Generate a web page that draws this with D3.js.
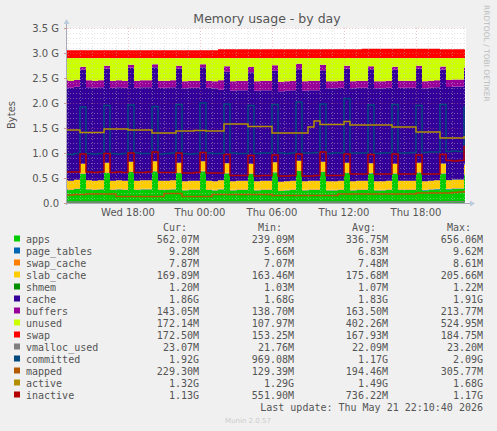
<!DOCTYPE html>
<html><head><meta charset="utf-8">
<script src="https://cdn.jsdelivr.net/npm/d3@7"></script>
<style>body{margin:0;background:#f0f0f0}svg{display:block}</style>
</head><body><svg id="c" width="497" height="431"></svg>
<script>
// time: 30-minute samples starting Wed 12:45 (hours from Wed 00:00)
const startHour = 12.75, stepHour = 0.5;
const apps = [0.27,0.26,0.28,0.58, 0.27,0.26,0.27,0.60, 0.26,0.27,0.26,0.62, 0.26,0.27,0.27,0.63, 0.26,0.26,0.27,0.60, 0.25,0.26,0.26,0.63, 0.26,0.25,0.27,0.59, 0.25,0.26,0.26,0.58, 0.25,0.26,0.26,0.61, 0.24,0.25,0.26,0.64, 0.25,0.26,0.26,0.62, 0.25,0.25,0.26,0.60, 0.25,0.26,0.26,0.59, 0.25,0.25,0.26,0.58, 0.26,0.26,0.26,0.60, 0.25,0.26,0.27,0.58, 0.27,0.28,0.28,0.56];
const pageTables = [0.006,0.006,0.006,0.007, 0.006,0.006,0.006,0.007, 0.006,0.006,0.006,0.007, 0.007,0.007,0.007,0.007, 0.007,0.007,0.007,0.007, 0.007,0.007,0.007,0.007, 0.007,0.007,0.007,0.007, 0.007,0.007,0.007,0.007, 0.007,0.007,0.007,0.007, 0.007,0.007,0.007,0.007, 0.007,0.007,0.007,0.007, 0.007,0.007,0.007,0.007, 0.007,0.007,0.007,0.008, 0.007,0.007,0.007,0.008, 0.007,0.007,0.007,0.008, 0.008,0.008,0.008,0.009, 0.009,0.009,0.009,0.009];
const swapCache = [0.007,0.007,0.007,0.007, 0.007,0.007,0.007,0.007, 0.007,0.007,0.007,0.007, 0.007,0.007,0.007,0.007, 0.007,0.007,0.007,0.007, 0.007,0.007,0.007,0.007, 0.007,0.007,0.008,0.008, 0.008,0.008,0.008,0.008, 0.008,0.008,0.008,0.008, 0.008,0.008,0.008,0.008, 0.008,0.008,0.008,0.008, 0.008,0.008,0.008,0.008, 0.008,0.008,0.008,0.008, 0.008,0.008,0.008,0.008, 0.008,0.008,0.008,0.008, 0.008,0.008,0.008,0.008, 0.008,0.008,0.008,0.008];
const slabCache = [0.17,0.17,0.17,0.19, 0.17,0.17,0.17,0.19, 0.17,0.17,0.17,0.19, 0.17,0.17,0.17,0.19, 0.17,0.17,0.17,0.19, 0.17,0.17,0.17,0.19, 0.17,0.17,0.17,0.19, 0.17,0.17,0.17,0.19, 0.17,0.17,0.17,0.19, 0.17,0.17,0.17,0.19, 0.17,0.17,0.17,0.19, 0.17,0.17,0.17,0.19, 0.17,0.17,0.17,0.19, 0.17,0.17,0.17,0.19, 0.17,0.17,0.17,0.19, 0.17,0.17,0.17,0.19, 0.17,0.17,0.17,0.19];
const shmem = [0.001,0.001,0.001,0.001, 0.001,0.001,0.001,0.001, 0.001,0.001,0.001,0.001, 0.001,0.001,0.001,0.001, 0.001,0.001,0.001,0.001, 0.001,0.001,0.001,0.001, 0.001,0.001,0.001,0.001, 0.001,0.001,0.001,0.001, 0.001,0.001,0.001,0.001, 0.001,0.001,0.001,0.001, 0.001,0.001,0.001,0.001, 0.001,0.001,0.001,0.001, 0.001,0.001,0.001,0.001, 0.001,0.001,0.001,0.001, 0.001,0.001,0.001,0.001, 0.001,0.001,0.001,0.001, 0.001,0.001,0.001,0.001];
const cache = [1.86,1.86,1.86,1.88, 1.86,1.86,1.86,1.88, 1.86,1.86,1.86,1.88, 1.86,1.86,1.86,1.88, 1.86,1.86,1.86,1.88, 1.86,1.86,1.86,1.88, 1.86,1.86,1.81,1.83, 1.81,1.81,1.81,1.83, 1.81,1.81,1.81,1.83, 1.81,1.81,1.81,1.83, 1.81,1.81,1.81,1.83, 1.86,1.86,1.86,1.88, 1.86,1.86,1.86,1.88, 1.86,1.86,1.86,1.88, 1.86,1.86,1.86,1.88, 1.86,1.86,1.86,1.88, 1.86,1.86,1.86,1.88];
const buffers = [0.14,0.14,0.14,0.06, 0.14,0.14,0.14,0.06, 0.14,0.14,0.14,0.06, 0.14,0.14,0.14,0.06, 0.14,0.14,0.14,0.06, 0.14,0.14,0.14,0.06, 0.14,0.14,0.19,0.11, 0.19,0.19,0.19,0.11, 0.19,0.19,0.19,0.11, 0.19,0.19,0.19,0.11, 0.19,0.19,0.19,0.11, 0.14,0.14,0.14,0.06, 0.14,0.14,0.14,0.06, 0.14,0.14,0.14,0.06, 0.14,0.14,0.14,0.06, 0.14,0.14,0.14,0.06, 0.14,0.14,0.14,0.06];
const unused = [0.444,0.454,0.434,0.174, 0.444,0.454,0.444,0.154, 0.454,0.444,0.454,0.134, 0.454,0.444,0.444,0.124, 0.454,0.454,0.444,0.154, 0.464,0.454,0.454,0.124, 0.454,0.464,0.444,0.164, 0.464,0.454,0.454,0.174, 0.464,0.454,0.454,0.144, 0.474,0.464,0.454,0.114, 0.464,0.454,0.454,0.134, 0.464,0.464,0.454,0.154, 0.464,0.454,0.454,0.164, 0.464,0.464,0.454,0.174, 0.454,0.454,0.454,0.154, 0.464,0.454,0.444,0.174, 0.444,0.434,0.434,0.194];
const swap = [0.155,0.155,0.155,0.155, 0.155,0.155,0.155,0.155, 0.155,0.155,0.155,0.155, 0.155,0.155,0.155,0.155, 0.155,0.155,0.155,0.155, 0.155,0.155,0.155,0.155, 0.155,0.155,0.175,0.175, 0.175,0.175,0.175,0.175, 0.175,0.175,0.175,0.175, 0.175,0.175,0.175,0.175, 0.175,0.175,0.175,0.175, 0.175,0.175,0.175,0.175, 0.175,0.175,0.185,0.185, 0.185,0.185,0.185,0.185, 0.185,0.185,0.185,0.185, 0.185,0.185,0.185,0.172, 0.172,0.172,0.172,0.172];
const vmallocUsed = [0.022,0.022,0.022,0.022, 0.022,0.022,0.022,0.022, 0.022,0.022,0.022,0.022, 0.022,0.022,0.022,0.022, 0.022,0.022,0.022,0.022, 0.022,0.022,0.022,0.022, 0.022,0.022,0.022,0.022, 0.022,0.022,0.022,0.022, 0.022,0.022,0.022,0.022, 0.022,0.022,0.022,0.022, 0.022,0.022,0.022,0.022, 0.022,0.022,0.022,0.022, 0.022,0.022,0.022,0.022, 0.022,0.022,0.022,0.022, 0.022,0.022,0.022,0.022, 0.022,0.022,0.022,0.022, 0.023,0.023,0.023,0.023];
const committed = [0.98,0.97,0.99,1.92, 0.99,0.98,0.99,1.95, 0.99,0.98,0.99,1.96, 1.00,0.99,0.99,1.93, 0.98,0.99,1.00,1.97, 0.99,0.98,0.99,2.00, 1.00,0.99,0.99,1.98, 1.00,0.99,0.99,1.95, 0.99,1.00,1.00,1.97, 1.00,0.99,1.00,2.02, 1.00,1.00,1.01,1.98, 0.99,1.00,1.00,2.09, 1.00,1.00,1.00,1.96, 0.99,1.00,1.00,1.97, 1.00,1.00,1.01,1.95, 1.01,1.02,1.02,1.97, 1.03,1.04,1.03,1.92];
const mapped = [0.16,0.16,0.17,0.17, 0.18,0.18,0.18,0.18, 0.18,0.13,0.13,0.13, 0.13,0.13,0.13,0.13, 0.13,0.19,0.19,0.19, 0.13,0.13,0.13,0.13, 0.13,0.17,0.17,0.17, 0.17,0.17,0.17,0.17, 0.17,0.17,0.17,0.15, 0.15,0.15,0.15,0.15, 0.15,0.15,0.15,0.15, 0.15,0.15,0.18,0.18, 0.18,0.18,0.18,0.18, 0.18,0.18,0.18,0.18, 0.18,0.18,0.18,0.20, 0.20,0.20,0.20,0.20, 0.20,0.21,0.22,0.23];
const active = [1.46,1.46,1.46,1.41, 1.41,1.41,1.41,1.48, 1.48,1.48,1.48,1.46, 1.46,1.46,1.46,1.40, 1.40,1.40,1.40,1.44, 1.44,1.44,1.45,1.45, 1.44,1.44,1.44,1.58, 1.58,1.58,1.58,1.53, 1.53,1.53,1.53,1.40, 1.40,1.40,1.40,1.40, 1.40,1.52,1.64,1.57, 1.57,1.57,1.57,1.63, 1.56,1.56,1.56,1.56, 1.56,1.56,1.56,1.52, 1.52,1.52,1.52,1.42, 1.42,1.42,1.42,1.30, 1.30,1.30,1.30,1.32];
const inactive = [0.62,0.62,0.62,0.98, 0.62,0.61,0.62,0.99, 0.61,0.62,0.61,1.00, 0.61,0.61,0.62,1.02, 0.61,0.61,0.61,1.00, 0.60,0.60,0.61,1.01, 0.60,0.60,0.60,0.97, 0.55,0.55,0.55,0.95, 0.54,0.55,0.55,0.96, 0.54,0.54,0.55,0.98, 0.54,0.54,0.55,1.02, 0.55,0.55,0.55,0.98, 0.58,0.58,0.58,0.97, 0.58,0.58,0.58,0.98, 0.58,0.58,0.58,0.96, 0.58,0.58,0.58,0.97, 0.85,0.84,0.85,1.13];
const yTicks = [0, 0.5, 1.0, 1.5, 2.0, 2.5, 3.0, 3.5];
const xTickHours = [18, 24, 30, 36, 42];
const xTickLabels = ["Wed 18:00", "Thu 00:00", "Thu 06:00", "Thu 12:00", "Thu 18:00"];
const legendNames = ["apps","page_tables","swap_cache","slab_cache","shmem","cache","buffers","unused","swap","vmalloc_used","committed","mapped","active","inactive"];
const legendColors = ["#00CC00","#0066B3","#FF8000","#FFCC00","#008F00","#330099","#990099","#CCFF00","#FF0000","#808080","#00487D","#B35A00","#B38F00","#B30000"];
const legendCur = ["562.07M","9.28M","7.87M","169.89M","1.20M","1.86G","143.05M","172.14M","172.50M","23.07M","1.92G","229.30M","1.32G","1.13G"];
const legendMin = ["239.09M","5.66M","7.07M","163.46M","1.03M","1.68G","138.70M","107.97M","153.25M","21.76M","969.08M","129.39M","1.29G","551.90M"];
const legendAvg = ["336.75M","6.83M","7.48M","175.68M","1.07M","1.83G","163.50M","402.26M","167.93M","22.09M","1.17G","194.46M","1.49G","736.22M"];
const legendMax = ["656.06M","9.62M","8.61M","205.66M","1.22M","1.91G","213.77M","524.95M","184.75M","23.20M","2.09G","305.77M","1.68G","1.17G"];

const svg = d3.select("#c");
const L=67, R=466, T=28, B=203;
const x = d3.scaleLinear().domain([12+55/60, 46+10/60]).range([L,R]);
const y = d3.scaleLinear().domain([0,3.5]).range([B,T]);
const hours = apps.map((_,i)=>startHour+i*stepHour);

svg.append("rect").attr("x",L).attr("y",T).attr("width",R-L).attr("height",B-T).attr("fill","#fff");
svg.append("clipPath").attr("id","pc").append("rect").attr("x",L).attr("y",T-2).attr("width",R-L-1).attr("height",B-T+2);
const g = svg.append("g").attr("clip-path","url(#pc)");

const stackSeries = [apps,pageTables,swapCache,slabCache,shmem,cache,buffers,unused,swap];
let base = apps.map(()=>0);
stackSeries.forEach((s,k)=>{
  const lo = base.slice(); const hi = base.map((b,i)=>b+s[i]);
  const area = d3.area().curve(d3.curveStep).x((d,i)=>x(hours[i])).y0((d,i)=>y(lo[i])).y1((d,i)=>y(hi[i]));
  g.append("path").attr("d",area(s)).attr("fill",legendColors[k]);
  base = hi;
});

// grid (drawn over areas, as rrdtool does)
const gg = svg.append("g").attr("opacity",0.45);
for (let v=0.1; v<3.55; v+=0.1) {
  const major = Math.abs(v*2-Math.round(v*2))<1e-6;
  gg.append("line").attr("x1",L).attr("x2",R).attr("y1",Math.round(y(v))+0.5).attr("y2",Math.round(y(v))+0.5)
   .attr("stroke",major?"#e08080":"#c8c8c8").attr("stroke-dasharray","1,2");
}
for (let h=13; h<=46; h++) {
  const major = h%6===0;
  gg.append("line").attr("y1",T).attr("y2",B).attr("x1",Math.round(x(h))+0.5).attr("x2",Math.round(x(h))+0.5)
   .attr("stroke",major?"#e08080":"#c8c8c8").attr("stroke-dasharray","1,2");
}

const lg = svg.append("g").attr("clip-path","url(#pc)");
const lineSeries = [vmallocUsed,committed,mapped,active,inactive];
lineSeries.forEach((s,k)=>{
  const line = d3.line().curve(d3.curveStep).x((d,i)=>x(hours[i])).y(d=>y(d));
  lg.append("path").attr("d",line(s)).attr("fill","none").attr("stroke",legendColors[9+k]).attr("stroke-width",1.5);
});

// axes
svg.append("line").attr("x1",L).attr("x2",R+5).attr("y1",B+0.5).attr("y2",B+0.5).attr("stroke","#aab");
svg.append("line").attr("x1",L-0.5).attr("x2",L-0.5).attr("y1",B+2).attr("y2",T-6).attr("stroke","#aab");
svg.append("path").attr("d",`M${L-3.5},${T-4} L${L-0.5},${T-9} L${L+2.5},${T-4} Z`).attr("fill","#bcd");
svg.append("path").attr("d",`M${R+4},${B-2.5} L${R+9},${B+0.5} L${R+4},${B+3.5} Z`).attr("fill","#bcd");
const f = "DejaVu Sans, sans-serif";
yTicks.forEach(v=>{
  svg.append("text").attr("x",59).attr("y",y(v)+3.5).attr("text-anchor","end").attr("font-family",f).attr("font-size",10).attr("fill","#555")
   .text(v===0?"0.0":v.toFixed(1)+" G");
  svg.append("line").attr("x1",L-3).attr("x2",L).attr("y1",Math.round(y(v))+0.5).attr("y2",Math.round(y(v))+0.5).attr("stroke","#c99");
});
xTickHours.forEach((h,i)=>{
  svg.append("text").attr("x",x(h)).attr("y",216).attr("text-anchor","middle").attr("font-family",f).attr("font-size",10).attr("fill","#555").text(xTickLabels[i]);
});
svg.append("text").attr("x",267).attr("y",23).attr("text-anchor","middle").attr("font-family",f).attr("font-size",12.5).attr("fill","#555").text("Memory usage - by day");
svg.append("text").attr("transform","translate(15,115) rotate(-90)").attr("text-anchor","middle").attr("font-family",f).attr("font-size",10).attr("fill","#555").text("Bytes");
svg.append("text").attr("transform","translate(484,5) rotate(90)").attr("font-family",f).attr("font-size",7.5).attr("fill","#bbb").text("RRDTOOL / TOBI OETIKER");

// legend
const mf = "DejaVu Sans Mono, monospace";
const cols=[199,294,388,483], heads=["Cur:","Min:","Avg:","Max:"];
heads.forEach((h,i)=>svg.append("text").attr("x",cols[i]-12).attr("y",231).attr("text-anchor","end").attr("font-family",mf).attr("font-size",10).attr("fill","#555").text(h));
legendNames.forEach((n,k)=>{
  const yy = 243+k*12;
  svg.append("rect").attr("x",14).attr("y",yy-7.5).attr("width",6).attr("height",6).attr("fill",legendColors[k]);
  svg.append("text").attr("x",26).attr("y",yy).attr("font-family",mf).attr("font-size",10).attr("fill","#555").text(n);
  [legendCur,legendMin,legendAvg,legendMax].forEach((a,i)=>svg.append("text").attr("x",cols[i]).attr("y",yy).attr("text-anchor","end").attr("font-family",mf).attr("font-size",10).attr("fill","#555").text(a[k]));
});
svg.append("text").attr("x",483).attr("y",411).attr("text-anchor","end").attr("font-family",mf).attr("font-size",10).attr("fill","#555").text("Last update: Thu May 21 22:10:40 2026");
svg.append("text").attr("x",248).attr("y",423).attr("text-anchor","middle").attr("font-family",f).attr("font-size",7).attr("fill","#ccc").text("Munin 2.0.57");
</script></body></html>
